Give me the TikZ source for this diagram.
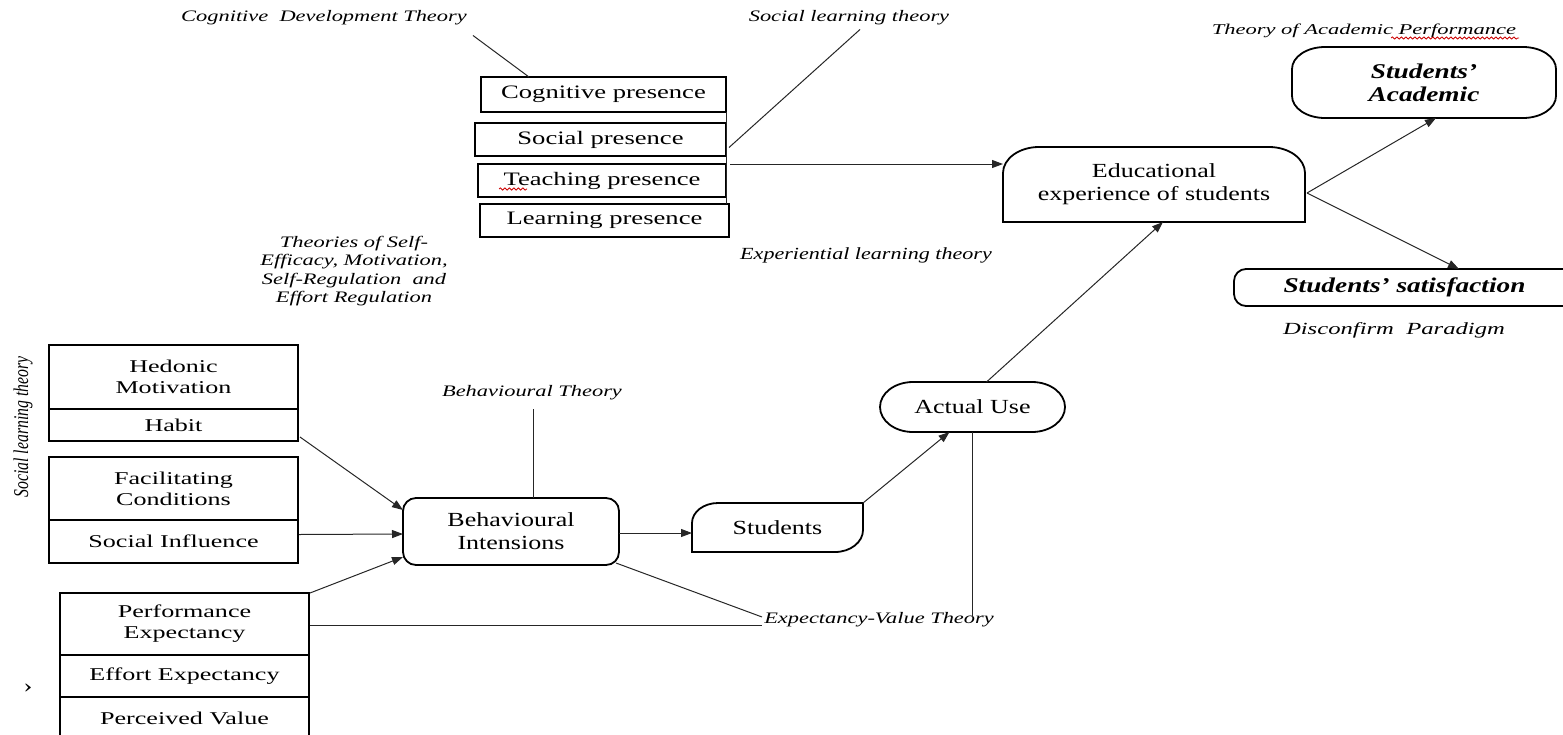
\documentclass[tikz,border=0pt]{standalone}
\usepackage{fontspec}
\setmainfont{Liberation Serif}
\newfontfamily\fwa[FakeStretch=1.45]{Liberation Serif}
\newfontfamily\fwb[FakeStretch=1.4]{Liberation Serif}
\newfontfamily\fwc[FakeStretch=1.3]{Liberation Serif}
\newfontfamily\fwd[FakeStretch=1.5]{Liberation Serif}
\newfontfamily\fwn[FakeStretch=0.75]{Liberation Serif}
\usetikzlibrary{arrows.meta,calc,decorations.pathmorphing}
\begin{document}
\begin{tikzpicture}[x=1pt,y=-1pt,
  cellbox/.style={draw, line width=2.2pt, inner sep=0pt, outer sep=0pt, align=center,
    font=\fwa\fontsize{18}{21}\selectfont},
  presbox/.style={draw, line width=2.4pt, inner sep=0pt, outer sep=0pt,
    font=\fwb\fontsize{19}{22}\selectfont},
  frame/.style={inner sep=0pt, outer sep=0pt, align=center,
    font=\fwc\fontsize{20}{23}\selectfont},
  boldframe/.style={frame, font=\fwc\bfseries\itshape\fontsize{21}{23}\selectfont},
  outline/.style={line width=1.8pt},
  theory/.style={inner sep=0pt, align=center, font=\fwb\itshape\fontsize{16}{18.3}\selectfont},
  link/.style={line width=1pt, black!85},
  arr/.style={link, -{Triangle[length=11pt,width=8pt]}},
  squiggle/.style={red!80!black, line width=0.8pt, decorate,
    decoration={snake, amplitude=1.1pt, segment length=4.5pt}},
]
\useasboundingbox (0,0) rectangle (1563,734);
\clip (0,0) rectangle (1563,734);

% ---- presence boxes ----
\node[presbox, minimum width=245pt, minimum height=35pt] (cog) at (603.5,94.5) {Cognitive presence};
\node[presbox, minimum width=251pt, minimum height=33pt] (soc) at (600.5,139.5) {Social presence};
\node[presbox, minimum width=248pt, minimum height=33pt] (tea) at (602,180.5) {Teaching presence};
\node[presbox, minimum width=249pt, minimum height=33pt] (lea) at (604.5,220.5) {Learning presence};
\draw[squiggle] (499,189) -- (527,189);

% ---- left construct blocks ----
\node[cellbox, minimum width=249pt, minimum height=64pt] (hed) at (173.5,377) {Hedonic\\Motivation};
\node[cellbox, minimum width=249pt, minimum height=32pt] (hab) at (173.5,425) {Habit};
\node[cellbox, minimum width=249pt, minimum height=63pt] (fac) at (173.5,488.5) {Facilitating\\Conditions};
\node[cellbox, minimum width=249pt, minimum height=43pt] (sin) at (173.5,541.5) {Social Influence};
\node[cellbox, minimum width=249pt, minimum height=62pt] (per) at (184.5,624) {Performance\\Expectancy};
\node[cellbox, minimum width=249pt, minimum height=42pt] (eff) at (184.5,676) {Effort Expectancy};
\node[cellbox, minimum width=249pt, minimum height=43pt] (pva) at (184.5,718.5) {Perceived Value};

% ---- process nodes ----
\node[frame, draw, outline, rounded corners=13pt, minimum width=216pt, minimum height=67pt] (beh) at (511,531.5) {Behavioural\\Intensions};

\node[frame, minimum width=171pt, minimum height=49pt] (stu) at (777.5,527.5) {Students};
\draw[outline] (stu.south west) -- ([yshift=-20pt]stu.north west)
  arc[start angle=180, end angle=270, x radius=26, y radius=20]
  -- (stu.north east) -- ([yshift=22pt]stu.south east)
  arc[start angle=0, end angle=90, x radius=28, y radius=22] -- cycle;

\node[frame, minimum width=185pt, minimum height=50pt] (act) at (972.5,407) {Actual Use};
\draw[outline] ([xshift=33pt]act.north west) -- ([xshift=-33pt]act.north east)
  arc[start angle=270, end angle=450, x radius=33, y radius=25]
  -- ([xshift=33pt]act.south west)
  arc[start angle=90, end angle=270, x radius=33, y radius=25] -- cycle;

\node[frame, minimum width=302pt, minimum height=75pt] (edu) at (1154,184.5) {Educational\\experience of students};
\draw[outline] (edu.south west) -- ([yshift=-26pt]edu.north west)
  arc[start angle=180, end angle=270, x radius=36, y radius=26]
  -- ([xshift=-36pt]edu.north east)
  arc[start angle=270, end angle=360, x radius=36, y radius=26]
  -- (edu.south east) -- cycle;

\node[boldframe, minimum width=264pt, minimum height=71pt] (aca) at (1424,82.5) {Students’\\Academic};
\draw[outline] ([xshift=33pt]aca.north west) -- ([xshift=-33pt]aca.north east)
  arc[start angle=270, end angle=360, x radius=33, y radius=22]
  -- ([yshift=22pt]aca.south east)
  arc[start angle=0, end angle=90, x radius=33, y radius=22]
  -- ([xshift=33pt]aca.south west)
  arc[start angle=90, end angle=180, x radius=33, y radius=22]
  -- ([yshift=-22pt]aca.north west)
  arc[start angle=180, end angle=270, x radius=33, y radius=22] -- cycle;

\node[boldframe, draw, outline, rounded corners=12pt, minimum width=341pt, minimum height=37pt] (sat) at (1404.5,287.5) {Students’ satisfaction};

% ---- theory labels ----
\node[theory] (cdt) at (324,18) {Cognitive~ Development Theory};
\node[theory] (slt) at (849,18) {Social learning theory};
\node[theory, font=\fwd\itshape\fontsize{15}{17}\selectfont] (tap) at (1364,31) {Theory of Academic Performance};
\draw[squiggle] (1391,38) -- (1519,38);
\node[theory, font=\fwc\itshape\fontsize{17}{19}\selectfont] (elt) at (866,255) {Experiential learning theory};
\node[theory] (tsm) at (354,271) {Theories of Self-\\Efficacy, Motivation,\\Self-Regulation~ and\\Effort Regulation};
\node[theory] (bt) at (532,393) {Behavioural Theory};
\node[theory] (evt) at (879,620) {Expectancy-Value Theory};
\node[theory, font=\fwa\itshape\fontsize{17}{19}\selectfont] (dp) at (1394,330) {Disconfirm~ Paradigm};
\node[theory, font=\fwn\itshape\fontsize{21}{23}\selectfont, rotate=90] (sltv) at (23,427) {Social learning theory};
\node[inner sep=0pt, font=\fwb\fontsize{20}{22}\selectfont] (mark) at (28,688) {›};

% ---- connectors ----
\draw[link] ($(cdt.south east)+(6,10)$) -- ($(cog.north west)+(48,0)$);
\draw[link] ($(slt.south)+(11,4)$) -- ($(soc.east)+(3,8)$);
\draw[link] (cog.south east) -- (cog.south east |- lea.north);
\coordinate (pout) at ($(tea.north east)+(4,0)$);
\draw[arr] (pout) -- (pout -| edu.west);
\coordinate (eout) at ($(edu.east)+(2,8.5)$);
\draw[arr] (eout) -- ($(aca.south)+(12,0)$);
\draw[arr] (eout) -- ($(sat.north)+(54.5,0)$);
\draw[arr] ($(act.north)+(14,0)$) -- ($(edu.south)+(9,0)$);
\draw[arr] (stu.north east) -- ($(act.south)+(-23,0)$);
\draw[arr] ($(beh.east)+(0,1.5)$) -- ($(stu.west)+(0,5.5)$);
\draw[arr] ($(hab.south east)+(2,-4)$) -- ($(beh.west)+(0,-21.5)$);
\draw[arr] ($(sin.east)+(1,-7)$) -- ($(beh.west)+(0,2.5)$);
\draw[arr] ($(per.north east)+(1,0)$) -- ($(beh.west)+(0,25.5)$);
\draw[link] ($(beh.south east)+(-3,-2)$) -- ($(evt.west)+(-2,-3)$);
\draw[link] ($(per.east)+(1,1)$) -- ($(evt.west)+(-2,5)$);
\draw[link] (act.south) -- ($(act.south |- evt.north)+(0,4)$);
\draw[link] ($(beh.north)+(22,0)$) -- ($(bt.south)+(1,9)$);
\end{tikzpicture}
\end{document}
